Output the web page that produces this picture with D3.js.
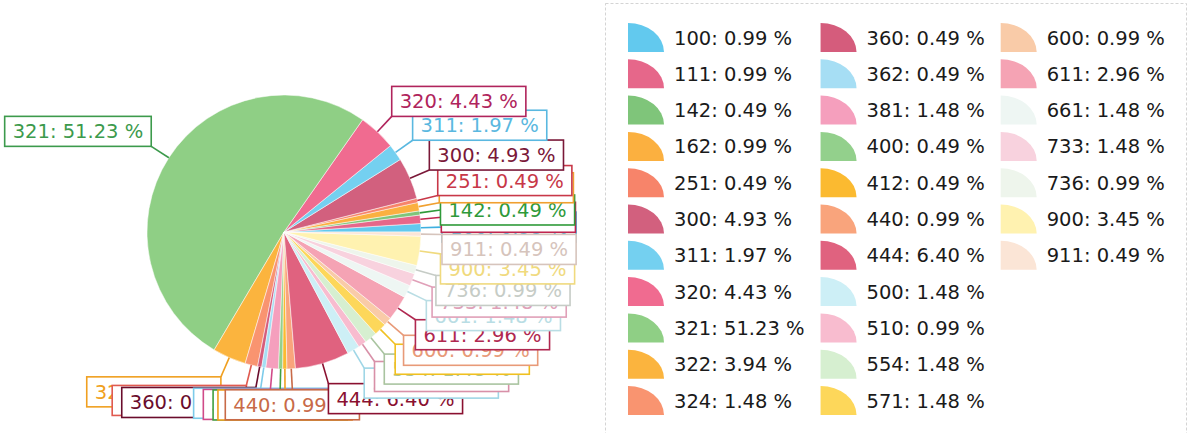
<!DOCTYPE html>
<html>
<head>
<meta charset="utf-8">
<script src="https://cdn.jsdelivr.net/npm/d3@7/dist/d3.min.js"></script>
<style>
  body { margin: 0; background: #fff; }
  svg { display: block; font-family: 'DejaVu Sans', Verdana, sans-serif; }
</style>
</head>
<body>
<div id="chart"></div>
<script>
// categories, in pie order (counter-clockwise from 3 o'clock)
const codes = ['100', '111', '142', '162', '251', '300', '311', '320', '321', '322', '324',
  '360', '362', '381', '400', '412', '440', '444', '500', '510', '554', '571',
  '600', '611', '661', '733', '736', '900', '911'];

// share of each category, %
const shares = [0.99, 0.99, 0.49, 0.99, 0.49, 4.93, 1.97, 4.43, 51.23, 3.94, 1.48,
  0.49, 0.49, 1.48, 0.49, 0.49, 0.99, 6.40, 1.48, 0.99, 1.48, 1.48,
  0.99, 2.96, 1.48, 1.48, 0.99, 3.45, 0.49];

const sliceColors = ['#62c9ee', '#e6678a', '#7fc57a', '#fbb040', '#f7846a', '#d2607e', '#74d0f0', '#f06b90', '#8fcf85', '#fbb43e', '#f99470',
  '#d55c7c', '#a6def4', '#f59fbd', '#93d08c', '#fbba30', '#f9a47c', '#e0627f', '#cdeff6', '#f8bccf', '#d6efd0', '#fdd75a',
  '#f9cba8', '#f5a3b4', '#eef6f3', '#f8d2de', '#eef5ec', '#fff2b0', '#fbe5d6'];

// callout text / border colours
const labelColors = ['#3fb0e0', '#c0254f', '#2f9a3a', '#f0a030', '#c83848', '#7a1838', '#5ab8e0', '#b0245c', '#3c9a4c', '#f0a020', '#e05a50',
  '#6a0c2c', '#7ccbea', '#d04a88', '#40a040', '#f0a020', '#c86a48', '#8a1030', '#9fd6e6', '#d890a8', '#a9c4a0', '#f0c020',
  '#e89a78', '#b02850', '#b9dde4', '#e0a0b8', '#c6ccc6', '#f0da7e', '#d6c4bc'];

const W = 1190, H = 433;
const cx = 284, cy = 232, radius = 137, labelRadius = 158;
const fontSize = 19.5, boxH = 30, boxPad = 8;
// callouts close to an axis are centred on it
const axisBand = Math.sin(9.5 * Math.PI / 180);

const data = codes.map((c, i) => ({code: c, value: shares[i], color: sliceColors[i], labelColor: labelColors[i]}));
const fmt = d => d.code + ': ' + d.value.toFixed(2) + ' %';

const svg = d3.select('#chart').append('svg')
  .attr('width', W)
  .attr('height', H);

svg.append('rect').attr('width', W).attr('height', H).attr('fill', '#fff');

const pie = d3.pie()
  .sort(null)
  .value(d => d.value)
  .startAngle(Math.PI / 2)
  .endAngle(Math.PI / 2 - 2 * Math.PI);

const arcs = pie(data);
const arc = d3.arc().innerRadius(0).outerRadius(radius);

const g = svg.append('g').attr('transform', 'translate(' + cx + ',' + cy + ')');

g.selectAll('path.slice')
  .data(arcs)
  .enter().append('path')
  .attr('class', 'slice')
  .attr('d', arc)
  .attr('fill', d => d.data.color)
  .attr('stroke', '#fff')
  .attr('stroke-width', 0.5);

// callouts, later ones sit on top of earlier ones
arcs.forEach(a => {
  const mid = (a.startAngle + a.endAngle) / 2;
  const ux = Math.sin(mid), uy = -Math.cos(mid);
  const ax = ux * labelRadius, ay = uy * labelRadius;
  const col = a.data.labelColor;

  const lg = g.append('g');

  lg.append('line')
    .attr('x1', ux * radius).attr('y1', uy * radius)
    .attr('x2', ax).attr('y2', ay)
    .attr('stroke', col)
    .attr('stroke-width', 1.6);

  const box = lg.append('rect');
  const text = lg.append('text')
    .attr('font-size', fontSize)
    .attr('fill', col)
    .text(fmt(a.data));

  const w = text.node().getComputedTextLength() + boxPad * 2;

  let left;
  if (Math.abs(ux) < axisBand) left = ax - w / 2;
  else left = ux > 0 ? ax : ax - w;

  let top;
  if (uy < 0) top = (-uy < axisBand) ? ay - boxH / 2 : ay - boxH;
  else top = ay;

  box.attr('x', left).attr('y', top)
    .attr('width', w).attr('height', boxH)
    .attr('fill', '#fff')
    .attr('stroke', col)
    .attr('stroke-width', 1.6);

  text.attr('x', left + boxPad)
    .attr('y', top + boxH / 2)
    .attr('dy', '0.36em');
});

// legend
const legend = svg.append('g');

legend.append('rect')
  .attr('x', 605.5).attr('y', 3.5)
  .attr('width', 581).attr('height', 445)
  .attr('fill', 'none')
  .attr('stroke', '#d4d4d4')
  .attr('stroke-dasharray', '3,2');

const perCol = 11, rowH = 36.3, row0 = 37.5;
const iconW = 36, iconH = 29, iconGap = 10, colGap = 16;
const icon = d3.arc().innerRadius(0).outerRadius(1).startAngle(0).endAngle(Math.PI / 2);

let colX = 628;
for (let c = 0; c * perCol < data.length; c++) {
  const items = data.slice(c * perCol, (c + 1) * perCol);
  let maxW = 0;
  items.forEach((d, i) => {
    const y = row0 + i * rowH;
    legend.append('path')
      .attr('d', icon())
      .attr('transform', 'translate(' + colX + ',' + (y + iconH / 2) + ') scale(' + iconW + ',' + iconH + ')')
      .attr('fill', d.color);
    const t = legend.append('text')
      .attr('x', colX + iconW + iconGap)
      .attr('y', y)
      .attr('dy', '0.36em')
      .attr('font-size', fontSize)
      .attr('fill', '#1a1a1a')
      .text(fmt(d));
    maxW = Math.max(maxW, t.node().getComputedTextLength());
  });
  colX += iconW + iconGap + maxW + colGap;
}
</script>
</body>
</html>
